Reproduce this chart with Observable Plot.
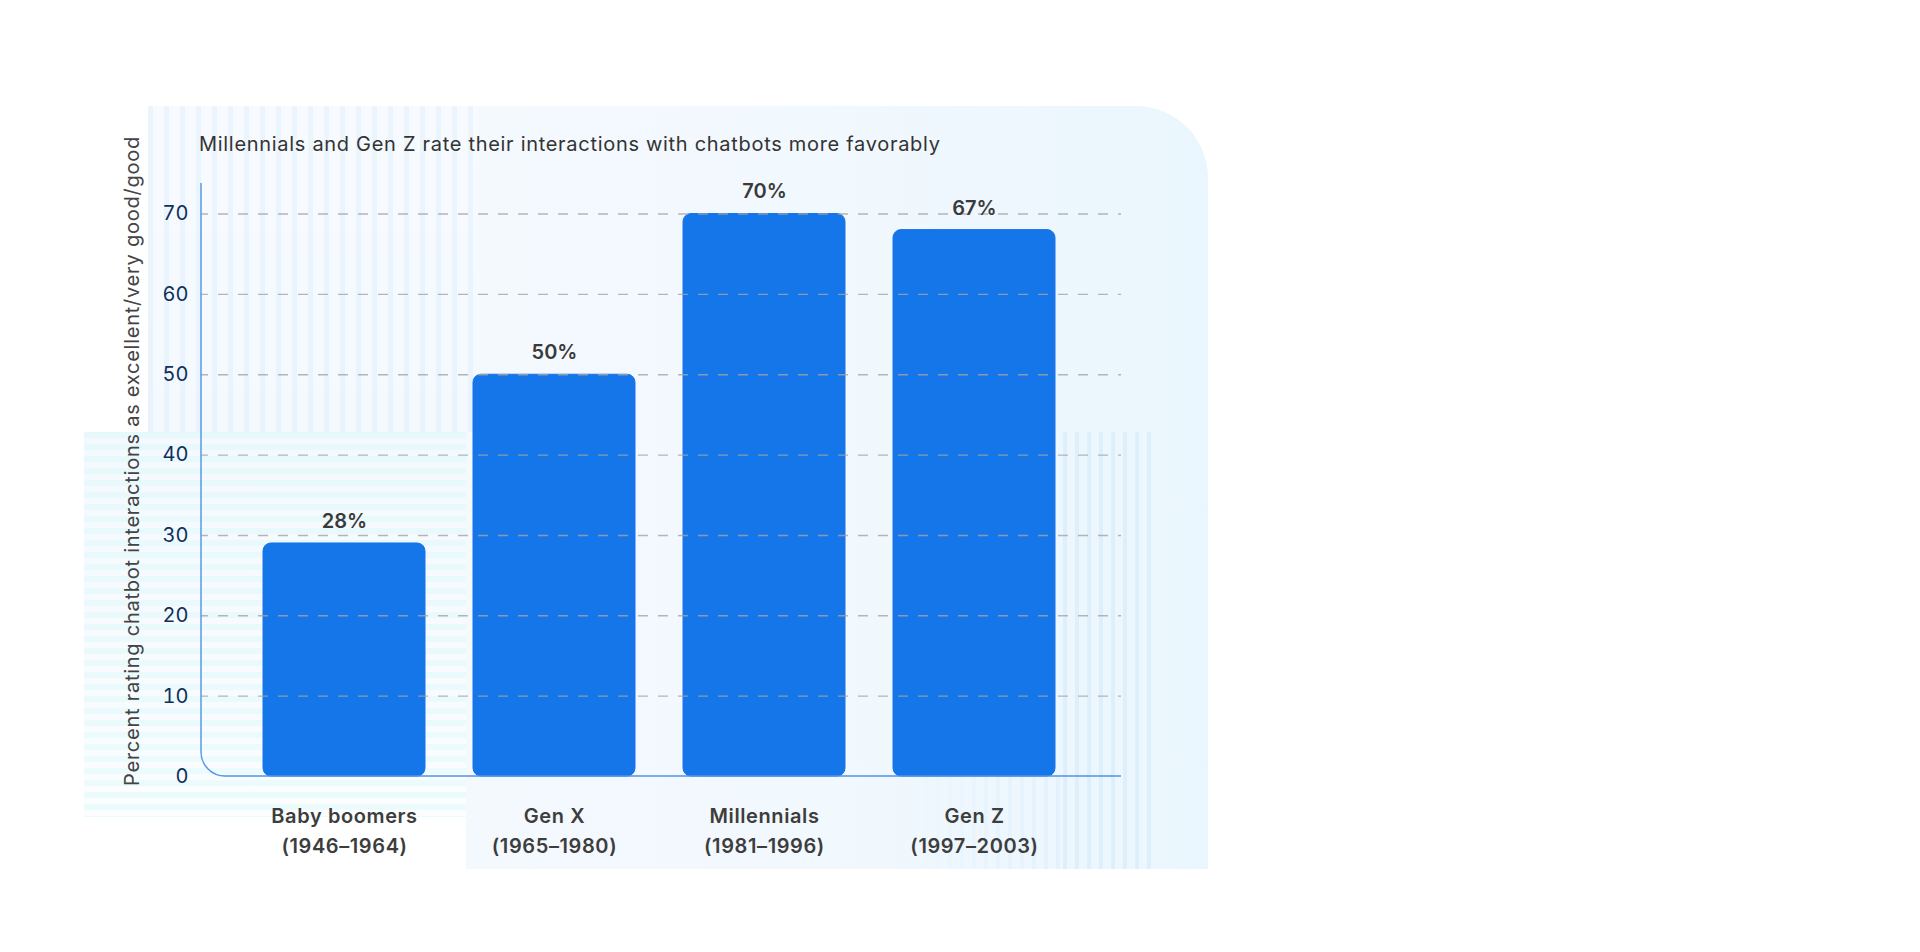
<!DOCTYPE html>
<html>
<head>
<meta charset="utf-8">
<script src="https://cdn.jsdelivr.net/npm/d3@7"></script>
<script src="https://cdn.jsdelivr.net/npm/@observablehq/plot@0.6"></script>
<style>
html, body { margin: 0; padding: 0; background: #ffffff; }
body { width: 1920px; height: 952px; position: relative; overflow: hidden; font-family: Inter, "Open Sans", sans-serif; }
.deco { position: absolute; }
#panel { left: 466px; top: 106px; width: 742px; height: 763px;
  background: linear-gradient(90deg, #f4f9fe 0%, #f1f8fe 50%, #eaf6fd 100%);
  border-top-right-radius: 72px; }
#panelTop { left: 148px; top: 106px; width: 330px; height: 326px;
  background: repeating-linear-gradient(90deg, rgba(216,236,252,0.42) 0 5px, rgba(255,255,255,0) 5px 16px), linear-gradient(180deg, #f7fbff, #f4f9fe); }
#panelLeft { left: 84px; top: 432px; width: 382px; height: 385px;
  background: repeating-linear-gradient(180deg, rgba(214,248,248,0.4) 0 6px, rgba(255,255,255,0) 6px 12px), linear-gradient(180deg, #f3f9fe, #fbfdff); }
#stripesRight { left: 1063px; top: 432px; width: 92px; height: 437px;
  background: repeating-linear-gradient(90deg, rgba(205,230,250,0.45) 0 4px, rgba(255,255,255,0) 4px 12px); }
#stripesBottom { left: 900px; top: 777px; width: 163px; height: 92px;
  background: repeating-linear-gradient(90deg, rgba(205,230,250,0.3) 0 4px, rgba(255,255,255,0) 4px 12px);
  -webkit-mask-image: linear-gradient(90deg, transparent, #000); mask-image: linear-gradient(90deg, transparent, #000); }
#title { position: absolute; left: 199px; top: 132px; font-size: 20px; line-height: 24px; color: #333333; font-weight: 400; white-space: nowrap; letter-spacing: 0.7px; }
#chart { position: absolute; left: 0; top: 0; }
</style>
</head>
<body>
<div class="deco" id="panel"></div>
<div class="deco" id="panelTop"></div>
<div class="deco" id="panelLeft"></div>
<div class="deco" id="stripesRight"></div>
<div class="deco" id="stripesBottom"></div>
<div id="title">Millennials and Gen Z rate their interactions with chatbots more favorably</div>
<div id="chart"></div>
<script>
// ---- data ----
const generations = ["Baby boomers", "Gen X", "Millennials", "Gen Z"];
const years = ["(1946–1964)", "(1965–1980)", "(1981–1996)", "(1997–2003)"];
const values = [29, 50, 70, 68];
const valueLabels = ["28%", "50%", "70%", "67%"];
const yTicks = [0, 10, 20, 30, 40, 50, 60, 70];
const yLabel = "Percent rating chatbot interactions as excellent/very good/good";

const data = generations.map((g, i) => ({ name: g, years: years[i], value: values[i], label: valueLabels[i] }));

const font = "Inter, 'Open Sans', sans-serif";

// L-shaped axis with rounded corner, positioned through Plot's scales
function axisCorner(index, scales, values, dims) {
  const x0 = dims.marginLeft;
  const x1 = dims.width - dims.marginRight;
  const yTop = dims.marginTop;
  const y0 = scales.y(0);
  const r = 24;
  const path = document.createElementNS("http://www.w3.org/2000/svg", "path");
  path.setAttribute("d", `M${x0},${yTop}V${y0 - r}A${r},${r} 0 0 0 ${x0 + r},${y0}H${x1}`);
  path.setAttribute("fill", "none");
  path.setAttribute("stroke", "#4f93e8");
  path.setAttribute("stroke-width", "1.4");
  return path;
}

const plot = Plot.plot({
  width: 1920,
  height: 952,
  marginLeft: 201,
  marginRight: 799,
  marginTop: 183,
  marginBottom: 176,
  style: { background: "transparent", fontFamily: font, overflow: "visible" },
  x: { domain: generations, paddingInner: 0.23, paddingOuter: 0.3, align: 0.48, axis: null },
  y: { domain: [0, 73.8], axis: null },
  marks: [
    Plot.axisY({ ticks: yTicks, tickSize: 0, tickPadding: 13, fontSize: 20, color: "#0f2f5c", label: null }),
    Plot.barY(data, { x: "name", y: "value", fill: "#1476e8", stroke: "#1a72ec", strokeWidth: 1, rx: 8 }),
    Plot.gridY({ ticks: yTicks.filter(v => v > 0), stroke: "#a4a4a4", strokeOpacity: 0.8, strokeWidth: 1.4, strokeDasharray: "10,10", strokeDashoffset: 3 }),
    axisCorner,
    Plot.text(data, { x: "name", y: "value", text: "label", dy: -22, fontSize: 20, fontWeight: 600, fill: "#3a3a3a" }),
    Plot.text(data, { x: "name", frameAnchor: "bottom", text: d => d.name + "\n" + d.years, lineAnchor: "top", dy: 25, lineHeight: 1.5, fontSize: 20, fontWeight: 600, fill: "#3d3d3d" }),
    Plot.text([yLabel], { frameAnchor: "left", textAnchor: "middle", text: d => d, rotate: -90, dx: -69, dy: -19, fontSize: 20, fill: "#444444" })
  ]
});

// letter spacing to approximate the wider original typeface
d3.select(plot).selectAll("text").each(function () {
  const t = this.textContent;
  if (t === yLabel) this.style.letterSpacing = "0.75px";
  else if (generations.includes(t) || years.includes(t) || generations.some(g => t.startsWith(g))) this.style.letterSpacing = "0.6px";
});

document.getElementById("chart").appendChild(plot);
</script>
</body>
</html>
